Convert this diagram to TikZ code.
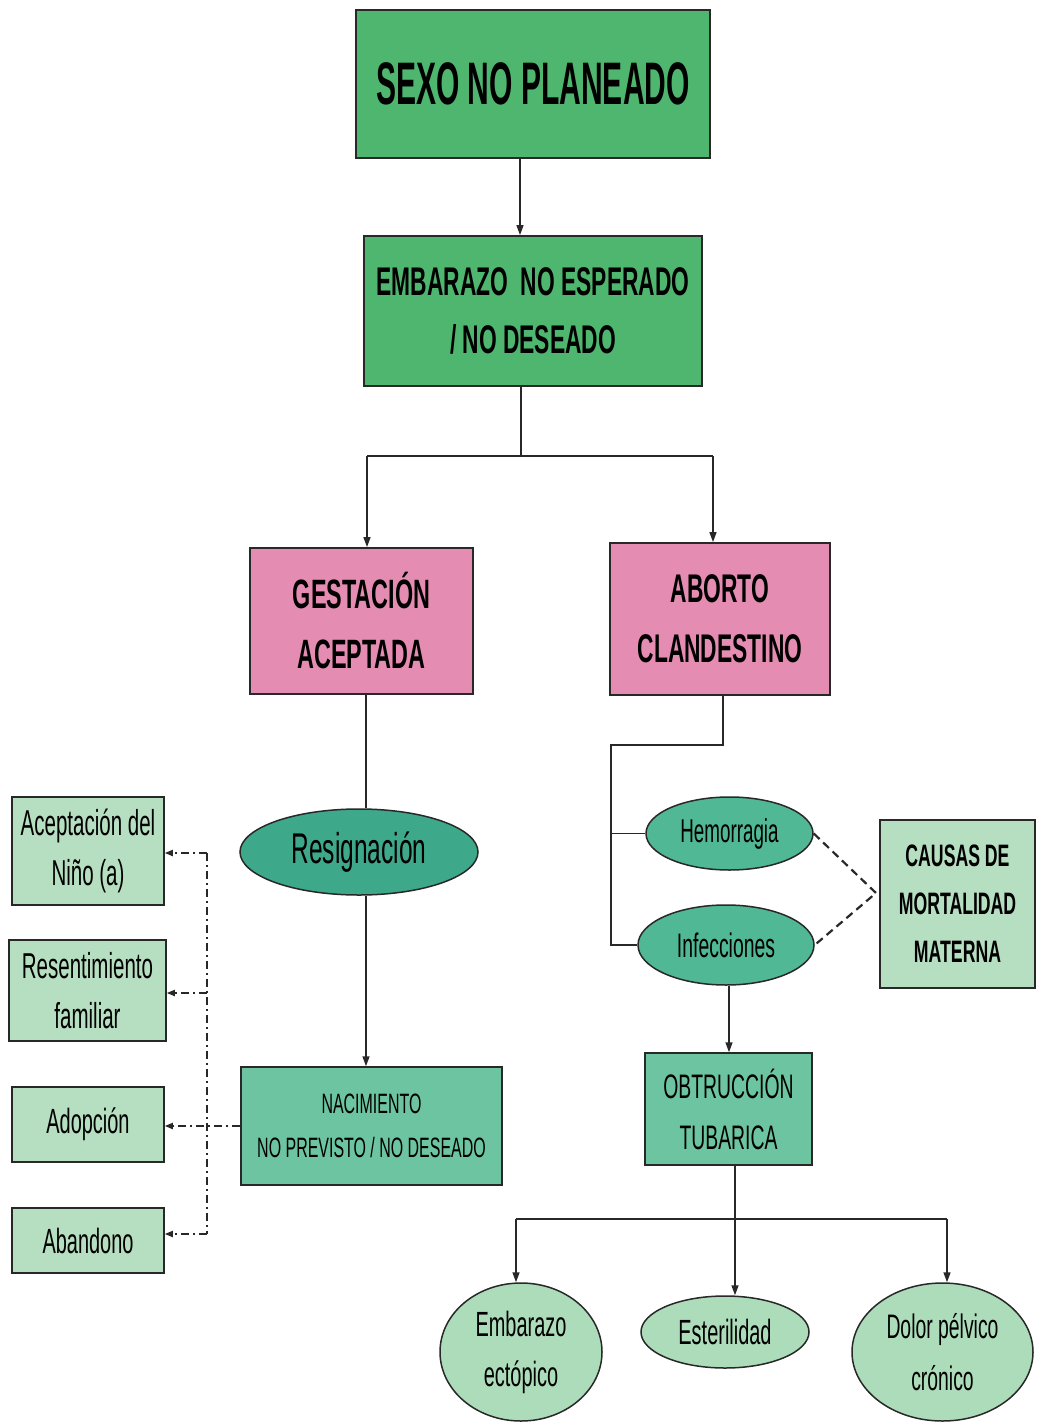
\documentclass[tikz,border=0pt]{standalone}
\usepackage{fontspec}
\setmainfont{Liberation Sans}[FakeStretch=0.57]
\newfontfamily\cA{Liberation Sans}[FakeStretch=0.5]
\usetikzlibrary{arrows.meta,shapes.geometric}
\definecolor{gtop}{RGB}{78,182,110}
\definecolor{pinkb}{RGB}{228,140,178}
\definecolor{tealD}{RGB}{62,168,138}
\definecolor{tealM}{RGB}{80,184,148}
\definecolor{tealL}{RGB}{108,196,160}
\definecolor{pale}{RGB}{182,222,192}
\definecolor{paleE}{RGB}{172,220,186}
\definecolor{edge}{RGB}{40,40,40}
\begin{document}
\begin{tikzpicture}[x=1pt,y=-1pt,
  box/.style={draw=edge, line width=1.8pt, align=center, inner sep=0pt},
  ell/.style={ellipse, draw=edge, line width=1.5pt, align=center, inner sep=0pt},
  ln/.style={line width=1.5pt, draw=edge},
  arr/.style={ln, -{Triangle[length=10pt,width=7pt]}},
  dd/.style={line width=1.7pt, draw=edge, dash pattern=on 8pt off 4pt on 2pt off 4pt},
  ddarr/.style={dd, -{Triangle[length=8pt,width=6pt]}},
  dsh/.style={line width=2.2pt, draw=edge, dash pattern=on 8pt off 5pt},
  fs/.style 2 args={font=\fontsize{#1}{#2}\selectfont}
]
\useasboundingbox (0,0) rectangle (1042,1423);

% main column
\node[box, fill=gtop, minimum width=354pt, minimum height=148pt, font=\cA\bfseries\fontsize{60}{60}\selectfont] (sexo) at (533,84) {SEXO NO PLANEADO};
\node[box, fill=gtop, minimum width=338pt, minimum height=150pt, font=\bfseries\fontsize{40}{58}\selectfont] (emb) at (533,311) {EMBARAZO~~NO ESPERADO\\/ NO DESEADO};
\node[box, fill=pinkb, minimum width=223pt, minimum height=146pt, font=\bfseries\fontsize{41}{60}\selectfont] (gest) at (361.5,621) {GESTACIÓN\\ACEPTADA};
\node[box, fill=pinkb, minimum width=220pt, minimum height=152pt, font=\bfseries\fontsize{40}{60}\selectfont] (abort) at (720,619) {ABORTO\\CLANDESTINO};
\node[ell, fill=tealD, minimum width=238pt, minimum height=86pt, fs={43}{50}] (resig) at (359,852) {Resignación};
\node[box, line width=1.5pt, fill=tealL, minimum width=261pt, minimum height=118pt, fs={28}{44}] (nac) at (371.5,1126) {NACIMIENTO\\NO PREVISTO / NO DESEADO};

% left column
\node[box, line width=1.5pt, fill=pale, minimum width=152pt, minimum height=108pt, fs={36}{50}] (acep) at (88,851) {Aceptación del\\Niño (a)};
\node[box, line width=1.5pt, fill=pale, minimum width=157pt, minimum height=101pt, fs={36}{50}] (resen) at (87.5,990.5) {Resentimiento\\familiar};
\node[box, line width=1.5pt, fill=pale, minimum width=152pt, minimum height=75pt, fs={35}{50}] (adop) at (88,1124.5) {Adopción};
\node[box, line width=1.5pt, fill=pale, minimum width=152pt, minimum height=65pt, fs={35}{50}] (aban) at (88,1240.5) {Abandono};

% right column
\node[ell, fill=tealM, minimum width=167pt, minimum height=73pt, fs={33}{40}] (hem) at (729.5,833.5) {Hemorragia};
\node[ell, fill=tealM, minimum width=176pt, minimum height=80pt, fs={34}{40}] (inf) at (726,945) {Infecciones};
\node[box, line width=1.5pt, fill=pale, minimum width=155pt, minimum height=168pt, font=\bfseries\fontsize{31}{48}\selectfont] (causas) at (957.5,904) {CAUSAS DE\\MORTALIDAD\\MATERNA};
\node[box, line width=1.5pt, fill=tealL, minimum width=167pt, minimum height=112pt, fs={34}{51}] (obt) at (728.5,1109) {OBTRUCCIÓN\\TUBARICA};

% bottom
\node[ell, fill=paleE, minimum width=162pt, minimum height=138pt, fs={35}{50}] (ecto) at (521,1352) {Embarazo\\ectópico};
\node[ell, fill=paleE, minimum width=168pt, minimum height=72pt, fs={35}{45}] (este) at (725,1332) {Esterilidad};
\node[ell, fill=paleE, minimum width=181pt, minimum height=138pt, fs={34}{52}] (dolor) at (942.5,1352) {Dolor pélvico\\crónico};

% connectors main
\draw[arr] ([xshift=-13pt]sexo.south) -- ([xshift=-13pt]emb.north);
\coordinate (j1) at (521,456);
\coordinate (jL) at (367,456);
\coordinate (jR) at (713,456);
\draw[ln] ([xshift=-12pt]emb.south) -- (j1);
\draw[ln] (jL) -- (jR);
\draw[arr] (jL) -- (jL |- gest.north);
\draw[arr] (jR) -- (jR |- abort.north);
\draw[ln] ([xshift=4.5pt]gest.south) -- ([xshift=4.5pt]gest.south |- resig.north);
\draw[arr] ([xshift=7pt]resig.south) -- ([xshift=7pt]resig.south |- nac.north);

% left dash-dot
\coordinate (vt) at (207,853);
\coordinate (vm) at (207,993);
\coordinate (vb) at (207,1234);
\draw[dd] (vt) -- (vb);
\draw[ddarr] (nac.west) -- (adop.east |- nac.west);
\draw[ddarr] (vt) -- (vt -| acep.east);
\draw[ddarr] (vm) -- (vm -| resen.east);
\draw[ddarr] (vb) -- (vb -| aban.east);

% right
\coordinate (bus) at (611,745);
\draw[ln] ([xshift=3pt]abort.south) -- ([xshift=3pt]abort.south |- bus) -- (bus) -- (bus |- inf.west) -- (inf.west);
\draw[ln] (bus |- hem.west) -- (hem.west);
\coordinate (mm) at (876,893);
\draw[dsh] (hem.east) -- (mm) -- (inf.east);
\draw[arr] ([xshift=3pt]inf.south) -- ([xshift=3pt]inf.south |- obt.north);

% bottom split
\coordinate (b) at (735,1219);
\coordinate (bL) at (516,1219);
\coordinate (bR) at (947,1219);
\draw[ln] (b |- obt.south) -- (b);
\draw[ln] (bL) -- (bR);
\draw[arr] (bL) -- (bL |- ecto.north);
\draw[arr] (b) -- (b |- este.north);
\draw[arr] (bR) -- (bR |- dolor.north);
\end{tikzpicture}
\end{document}
